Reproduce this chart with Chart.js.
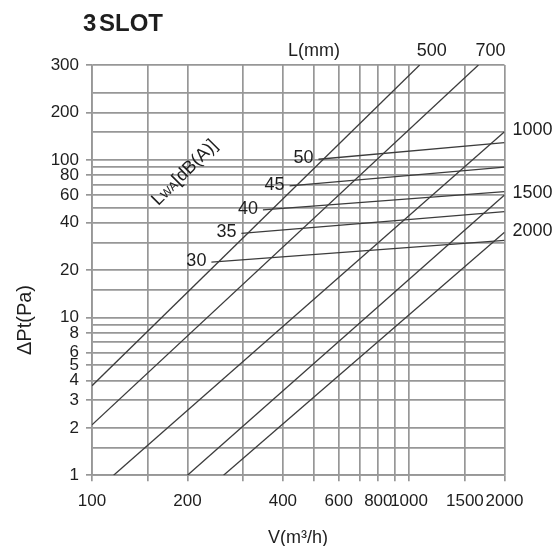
<!DOCTYPE html>
<html lang="en">
    <head>
        <meta charset="UTF-8" />
        <title>3SLOT</title>
        <script src="https://cdn.jsdelivr.net/npm/chart.js"></script>
        <style>
            body {
                margin: 0;
                background: #fff;
            }
        </style>
    </head>
    <body>
        <canvas id="chart" width="554" height="546"></canvas>

        <script>
            // axis grid and tick labels
            const xGrid = [100, 150, 200, 300, 400, 500, 600, 700, 800, 900, 1000, 1500, 2000];
            const xTickLabels = [100, 200, 400, 600, 800, 1000, 1500, 2000];
            // top line of the picture sits at ~400 on the log scale but is labelled 300
            const yGrid = [1, 1.5, 2, 3, 4, 5, 6, 7, 8, 9, 10, 15, 20, 30, 40, 50, 60, 70, 80, 90, 100, 150, 200, 265, 400];
            const yTickValues = [1, 2, 3, 4, 5, 6, 8, 10, 20, 40, 60, 80, 100, 200, 400];
            const yTickLabels = ['1', '2', '3', '4', '5', '6', '8', '10', '20', '40', '60', '80', '100', '200', '300'];

            // L(mm) lines
            const lSizes = ['500', '700', '1000', '1500', '2000'];
            const lStartV = [100, 100, 117, 200, 260];
            const lStartP = [3.7, 2.09, 1, 1, 1];
            const lEndV = [1080, 1655, 2000, 2000, 2000];
            const lEndP = [400, 400, 151, 60, 34.8];

            // LwA dB(A) lines
            const lwaLevels = ['30', '35', '40', '45', '50'];
            const lwaStartV = [238, 296, 346, 420, 518];
            const lwaStartP = [22.5, 34.2, 48.2, 68.4, 101];
            const lwaEndV = [2000, 2000, 2000, 2000, 2000];
            const lwaEndP = [30.9, 47.0, 62.9, 89.9, 128.8];

            const FONT = '"Liberation Sans", Arial, sans-serif';
            const GRID = '#979797';
            const INK = '#1e1e1e';
            const LINE = '#3c3c3c';

            const datasets = [];
            lSizes.forEach((s, i) => {
                datasets.push({
                    label: 'L' + s,
                    data: [
                        { x: lStartV[i], y: lStartP[i] },
                        { x: lEndV[i], y: lEndP[i] },
                    ],
                });
            });
            lwaLevels.forEach((s, i) => {
                datasets.push({
                    label: 'Lwa' + s,
                    data: [
                        { x: lwaStartV[i], y: lwaStartP[i] },
                        { x: lwaEndV[i], y: lwaEndP[i] },
                    ],
                });
            });
            datasets.forEach((d) => {
                d.borderColor = LINE;
                d.borderWidth = 1.3;
                d.pointRadius = 0;
                d.fill = false;
            });

            const textPlugin = {
                id: 'texts',
                afterDraw(chart) {
                    const c = chart.ctx;
                    const xs = chart.scales.x;
                    const ys = chart.scales.y;
                    c.save();
                    c.fillStyle = INK;
                    c.textBaseline = 'middle';

                    c.font = 'bold 24px ' + FONT;
                    c.textAlign = 'left';
                    c.fillText('3', 83, 24);
                    c.fillText('SLOT', 99, 24);

                    c.font = '18px ' + FONT;
                    c.textAlign = 'center';
                    c.fillText('L(mm)', 314, 51);

                    // L labels
                    lSizes.forEach((s, i) => {
                        const px = xs.getPixelForValue(lEndV[i]);
                        const py = ys.getPixelForValue(lEndP[i]);
                        if (lEndP[i] >= 400) {
                            c.textAlign = 'center';
                            c.fillText(s, px + 12, 51);
                        } else {
                            c.textAlign = 'left';
                            c.fillText(s, px + 8, py - 1.5);
                        }
                    });

                    // LwA labels
                    c.textAlign = 'right';
                    lwaLevels.forEach((s, i) => {
                        const px = xs.getPixelForValue(lwaStartV[i]);
                        const py = ys.getPixelForValue(lwaStartP[i]);
                        c.fillText(s, px - 5, py - 1);
                    });

                    // rotated LwA[dB(A)]
                    c.save();
                    c.translate(184, 172);
                    c.rotate(-45 * Math.PI / 180);
                    c.textAlign = 'left';
                    c.textBaseline = 'alphabetic';
                    const big = '18px ' + FONT;
                    const small = '12px ' + FONT;
                    c.font = big;
                    const w1 = c.measureText('L').width;
                    const w3 = c.measureText('[dB(A)]').width;
                    c.font = small;
                    const w2 = c.measureText('WA').width;
                    let x0 = -(w1 + w2 + w3) / 2;
                    c.font = big;
                    c.fillText('L', x0, 6);
                    c.font = small;
                    c.fillText('WA', x0 + w1, 6);
                    c.font = big;
                    c.fillText('[dB(A)]', x0 + w1 + w2, 6);
                    c.restore();

                    // axis titles
                    c.textAlign = 'center';
                    c.font = '18px ' + FONT;
                    c.fillText('V(m³/h)', 298, 538);

                    c.save();
                    c.translate(25, 320);
                    c.rotate(-Math.PI / 2);
                    c.font = '20px ' + FONT;
                    c.fillText('ΔPt(Pa)', 0, 0);
                    c.restore();

                    c.restore();
                },
            };

            new Chart(document.getElementById('chart'), {
                type: 'line',
                data: { datasets: datasets },
                options: {
                    responsive: false,
                    animation: false,
                    layout: { padding: { top: 65, right: 49.5, left: 0, bottom: 0 } },
                    plugins: {
                        legend: { display: false },
                        tooltip: { enabled: false },
                    },
                    scales: {
                        x: {
                            type: 'logarithmic',
                            min: 100,
                            max: 2000,
                            afterBuildTicks: (scale) => {
                                scale.ticks = xGrid.map((v) => ({ value: v }));
                            },
                            afterFit: (scale) => {
                                scale.height = 70.7;
                            },
                            grid: {
                                color: GRID,
                                lineWidth: 1.7,
                                tickLength: 6,
                                tickColor: GRID,
                            },
                            border: { color: GRID, width: 1.7 },
                            ticks: {
                                autoSkip: false,
                                maxRotation: 0,
                                padding: 10,
                                color: INK,
                                font: { family: FONT, size: 17 },
                                callback: (value) => (xTickLabels.includes(value) ? String(value) : ''),
                            },
                        },
                        y: {
                            type: 'logarithmic',
                            min: 1,
                            max: 400,
                            afterBuildTicks: (scale) => {
                                scale.ticks = yGrid.map((v) => ({ value: v }));
                            },
                            afterFit: (scale) => {
                                scale.width = 92;
                            },
                            grid: {
                                color: GRID,
                                lineWidth: 1.7,
                                tickLength: 6,
                                tickColor: (ctx) =>
                                    ctx.tick && yTickValues.includes(ctx.tick.value) ? GRID : 'rgba(0,0,0,0)',
                            },
                            border: { color: GRID, width: 1.7 },
                            ticks: {
                                autoSkip: false,
                                padding: 7,
                                color: INK,
                                font: { family: FONT, size: 17 },
                                callback: (value) => {
                                    const k = yTickValues.indexOf(value);
                                    return k >= 0 ? yTickLabels[k] : '';
                                },
                            },
                        },
                    },
                },
                plugins: [textPlugin],
            });
        </script>
    </body>
</html>
